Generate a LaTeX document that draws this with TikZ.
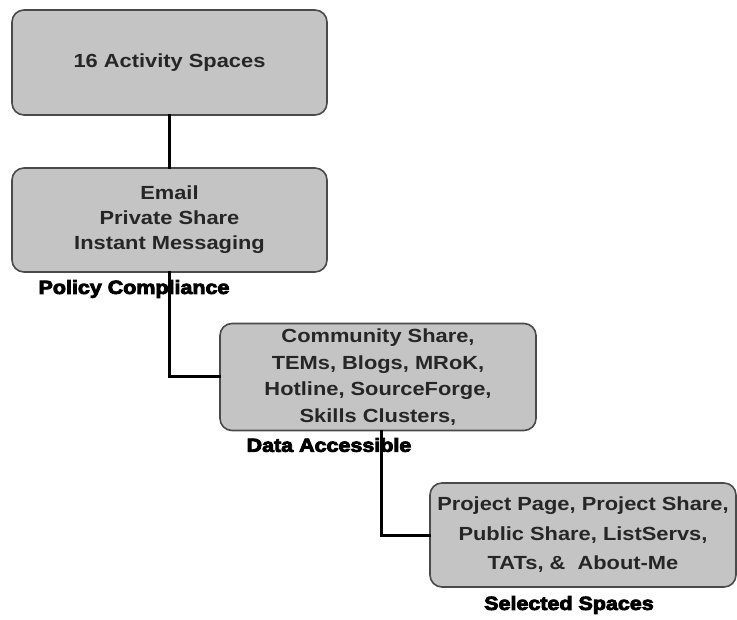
\documentclass[tikz,border=0pt]{standalone}
\usepackage{fontspec}
\usepackage{xcolor}
\usepackage{tikz}
\newfontfamily\boxfont[FakeStretch=1.15]{Liberation Sans}
\newfontfamily\stagefont[FakeStretch=1.13,FakeBold=4.5]{Liberation Sans}
\definecolor{boxgray}{HTML}{C4C4C4}
\definecolor{edgegray}{HTML}{4A4A4A}
\tikzset{>=latex,
    spacebox/.style={draw=edgegray, fill=boxgray, line width=1.6pt, rounded corners=12pt,
        align=center, text=black!85, font=\boxfont\bfseries\fontsize{19}{25}\selectfont},
    stagelabel/.style={font=\stagefont\bfseries\fontsize{19}{23}\selectfont, inner sep=0pt},
    link/.style={line width=3pt, line cap=rect}}

\begin{document}
\begin{tikzpicture}[x=1pt, y=-1pt]
    \useasboundingbox (0,0) rectangle (737,620);
    \node[spacebox, minimum width=315pt, minimum height=105pt] (all) at (169.5, 62.5) {16 Activity Spaces};
    \node[spacebox, minimum width=315pt, minimum height=104pt] (policy) at (169.5, 220) {Email\\Private Share\\Instant Messaging};
    \node[spacebox, minimum width=316pt, minimum height=107pt,
        font=\boxfont\bfseries\fontsize{19}{26.5}\selectfont] (access) at (378, 377)
        {Community Share,\\TEMs, Blogs, MRoK,\\Hotline, SourceForge,\\Skills Clusters,};
    \node[spacebox, minimum width=306pt, minimum height=104pt,
        font=\boxfont\bfseries\fontsize{19}{29.5}\selectfont] (selected) at (583, 535)
        {Project Page, Project Share,\\Public Share, ListServs,\\TATs, \&\ \ About-Me};
    \node[stagelabel] (policylbl) at (134, 289) {Policy Compliance};
    \node[stagelabel] (accesslbl) at (329, 445) {Data Accessible};
    \node[stagelabel] (selectedlbl) at (569, 605) {Selected Spaces};
    \draw[link] (all) -- (policy);
    \draw[link] (policy.south) |- (access.west);
    \draw[link] ([xshift=3pt]access.south) |- (selected.west);
  \end{tikzpicture}
\end{document}
